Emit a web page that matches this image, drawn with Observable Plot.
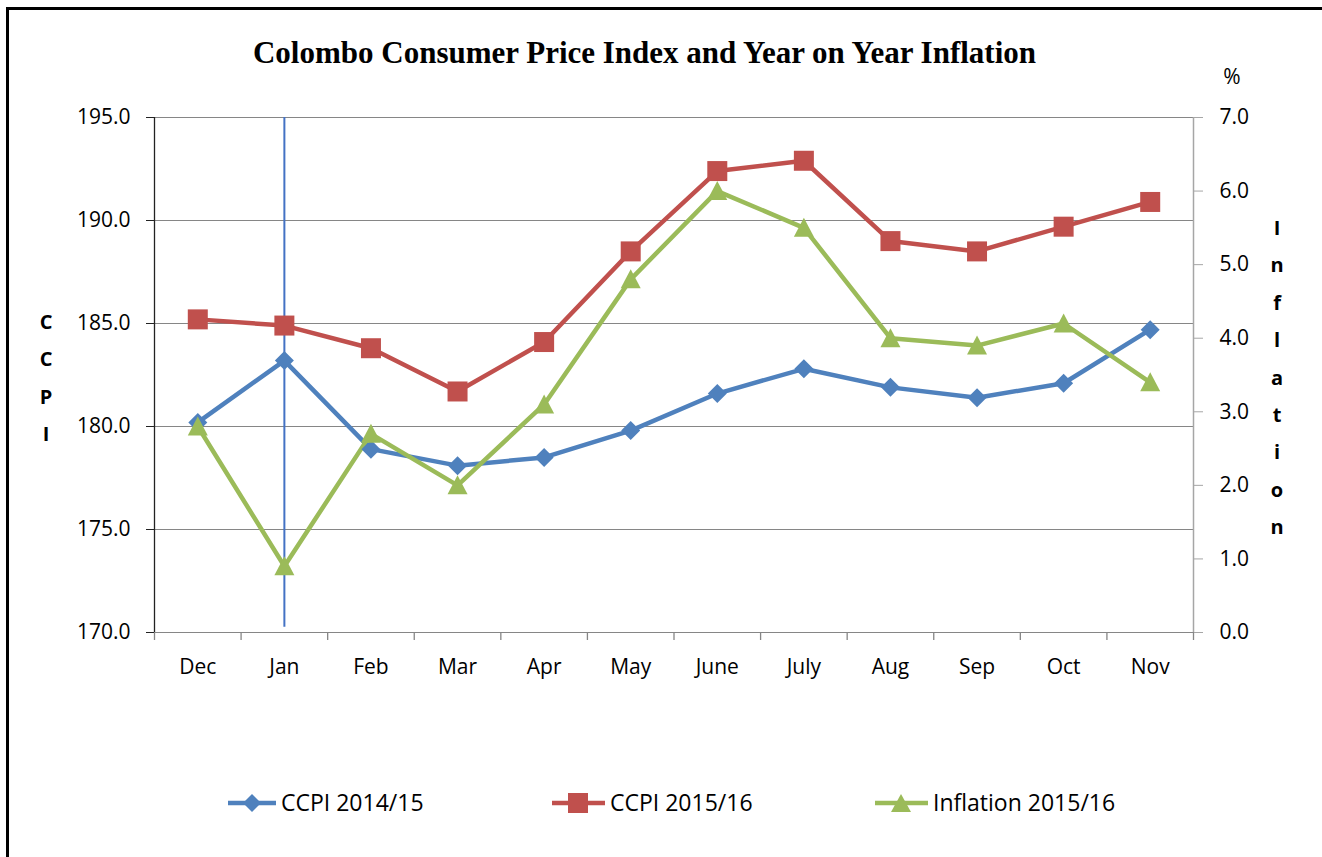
<!DOCTYPE html>
<html>
<head>
<meta charset="utf-8">
<script src="https://cdn.jsdelivr.net/npm/d3@7"></script>
<script src="https://cdn.jsdelivr.net/npm/@observablehq/plot@0.6"></script>
<style>
  html, body { margin: 0; padding: 0; background: #fff; overflow: hidden; }
  #wrap { position: relative; width: 1322px; height: 857px; background: #fff; }
  #frame { position: absolute; left: 6px; top: 7px; width: 1330px; height: 870px;
           border-left: 3px solid #000; border-top: 3px solid #000; box-sizing: border-box; pointer-events: none; }
  .abs { position: absolute; white-space: nowrap; }
  #title { left: 0; width: 1289px; top: 35px; text-align: center; font-family: "Liberation Serif", serif;
           font-weight: bold; font-size: 31px; line-height: 36px; color: #000; }
  .vlab { font-family: "Open Sans", sans-serif; font-weight: bold; font-size: 20px; color: #000;
          text-align: center; width: 30px; }
  .vlab div { height: 37.4px; line-height: 37.4px; }
  #pct { left: 1220px; top: 62px; font-family: "Open Sans", sans-serif; font-size: 21px; width: 24px; text-align: center; }
  .leg { font-family: "Open Sans", sans-serif; font-size: 23px; color: #000; line-height: 30px; }
</style>
</head>
<body>
<div id="wrap">
  <div id="chart" class="abs" style="left:0;top:0"></div>
  <div id="title" class="abs">Colombo Consumer Price Index and Year on Year Inflation</div>
  <div id="pct" class="abs">%</div>
  <div id="leftLab" class="abs vlab" style="left:31px;top:303px"></div>
  <div id="rightLab" class="abs vlab" style="left:1262px;top:209px"></div>
  <div id="legend"></div>
  <div id="frame"></div>
</div>
<script>
// ---- data ----
const months = ["Dec","Jan","Feb","Mar","Apr","May","June","July","Aug","Sep","Oct","Nov"];
const ccpi1415 = [180.2,183.2,178.9,178.1,178.5,179.8,181.6,182.8,181.9,181.4,182.1,184.7];
const ccpi1516 = [185.2,184.9,183.8,181.7,184.1,188.5,192.4,192.9,189.0,188.5,189.7,190.9];
const inflation = [2.8,0.9,2.7,2.0,3.1,4.8,6.0,5.5,4.0,3.9,4.2,3.4];
const leftTicks = [170,175,180,185,190,195];
const gridTicks = [175,180,185,190,195];
const rightTicks = [0,1,2,3,4,5,6,7];
const leftDomain = [170,195];
const rightDomain = [0,7];
const markerMonth = "Jan";
const markerBottom = 170.25;
const seriesNames = ["CCPI 2014/15","CCPI 2015/16","Inflation 2015/16"];
const colors = ["#4F81BD","#C0504D","#9BBB59"];

// map right-axis (inflation) values onto the left scale domain
const toLeft = v => leftDomain[0] + (v - rightDomain[0]) * (leftDomain[1]-leftDomain[0]) / (rightDomain[1]-rightDomain[0]);
const fromLeft = d => rightDomain[0] + (d - leftDomain[0]) * (rightDomain[1]-rightDomain[0]) / (leftDomain[1]-leftDomain[0]);

const rows = [];
months.forEach((m,i) => {
  rows.push({s: seriesNames[0], x: i + 0.5, y: ccpi1415[i]});
  rows.push({s: seriesNames[1], x: i + 0.5, y: ccpi1516[i]});
  rows.push({s: seriesNames[2], x: i + 0.5, y: toLeft(inflation[i])});
});

// custom marker symbols
const half = size => Math.sqrt(size / Math.PI);
const diamond = {draw(c, size){ const s = half(size); c.moveTo(0,-s); c.lineTo(s,0); c.lineTo(0,s); c.lineTo(-s,0); c.closePath(); }};
const square = {draw(c, size){ const s = half(size); c.moveTo(-s,-s); c.lineTo(s,-s); c.lineTo(s,s); c.lineTo(-s,s); c.closePath(); }};
const triangle = {draw(c, size){ const s = half(size); c.moveTo(0,-s); c.lineTo(s,s*0.9); c.lineTo(-s,s*0.9); c.closePath(); }};
const symbols = [diamond, square, triangle];

const nCat = months.length;
const plot = Plot.plot({
  width: 1322, height: 700,
  marginLeft: 154, marginRight: 129, marginTop: 117, marginBottom: 68,
  style: {fontFamily: "Open Sans, sans-serif", fontSize: "21px", color: "#000", background: "transparent"},
  x: {domain: [0, nCat], axis: null},
  y: {domain: leftDomain, axis: null},
  marks: [
    Plot.gridY(gridTicks, {stroke: "#868686", strokeOpacity: 1, strokeWidth: 1}),
    Plot.ruleY([leftDomain[0]], {stroke: "#868686", strokeWidth: 1.2}),
    Plot.ruleX([nCat], {y1: leftDomain[0], y2: leftDomain[1], stroke: "#A6A6A6", strokeWidth: 1.5}),
    Plot.ruleX([0], {y1: leftDomain[0], y2: leftDomain[1], stroke: "#222", strokeWidth: 1.3}),
    Plot.axisX({ticks: d3.range(nCat + 1), tickFormat: () => "", tickSize: 8, stroke: "#868686", strokeWidth: 1.3, label: null}),
    Plot.axisX({ticks: d3.range(nCat).map(i => i + 0.5), tickFormat: d => months[Math.round(d - 0.5)], tickSize: 0, tickPadding: 27, fill: "#000", label: null}),
    Plot.axisY({ticks: leftTicks, tickFormat: d => d.toFixed(1), tickSize: 8, tickPadding: 16, stroke: "#222", fill: "#000", label: null}),
    Plot.axisY({anchor: "right", ticks: rightTicks.map(toLeft), tickFormat: d => fromLeft(d).toFixed(1), tickSize: 9, tickPadding: 17, stroke: "#A6A6A6", fill: "#000", label: null}),
    Plot.ruleX([months.indexOf(markerMonth) + 0.5], {y1: leftDomain[1], y2: markerBottom, stroke: "#4472C4", strokeWidth: 2}),
    ...seriesNames.map((name, k) => Plot.line(rows.filter(r => r.s === name), {x: "x", y: "y", stroke: colors[k], strokeWidth: 4.5, strokeLinejoin: "round"})),
    ...seriesNames.map((name, k) => Plot.dot(rows.filter(r => r.s === name), {x: "x", y: "y", symbol: () => symbols[k], r: k === 0 ? 9.5 : 10, fill: colors[k], stroke: "none"}))
  ]
});
document.getElementById("chart").appendChild(plot);

// axis labels stacked vertically
document.getElementById("leftLab").innerHTML = "CCPI".split("").map(c => `<div>${c}</div>`).join("");
document.getElementById("rightLab").innerHTML = "Inflation".split("").map(c => `<div>${c}</div>`).join("");

// legend
const legX = [228, 552, 875];
const leg = document.getElementById("legend");
const shapes = [
  c => `<polygon points="24,2 33,11 24,20 15,11" fill="${c}"/>`,
  c => `<rect x="16" y="1" width="20" height="20" fill="${c}"/>`,
  c => `<polygon points="26,2 36,20 16,20" fill="${c}"/>`
];
seriesNames.forEach((name, k) => {
  const w = k === 0 ? 48 : 53;
  const d = document.createElement("div");
  d.className = "abs";
  d.style.left = legX[k] + "px";
  d.style.top = "792px";
  d.innerHTML = `<svg width="${w}" height="22" style="position:absolute;left:0;top:0">
      <line x1="0" x2="${w}" y1="11" y2="11" stroke="${colors[k]}" stroke-width="4.5"/>
      ${shapes[k](colors[k])}
    </svg>
    <span class="leg abs" style="left:${w + 5}px;top:-5px">${name}</span>`;
  leg.appendChild(d);
});
</script>
</body>
</html>
